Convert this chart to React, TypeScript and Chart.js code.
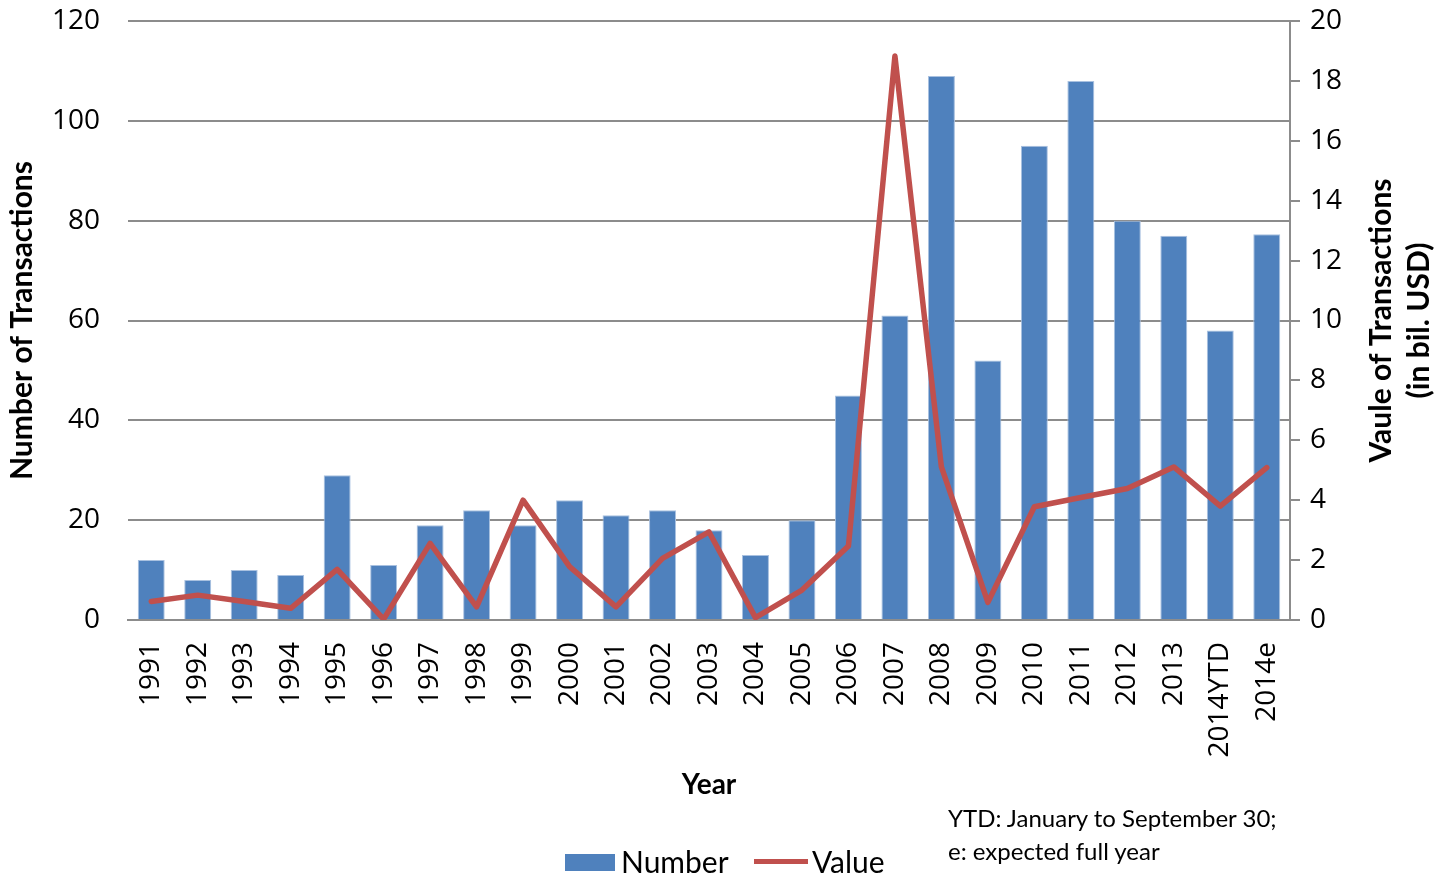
import React, { useEffect, useRef } from "react";
import { Chart, registerables } from "chart.js";

Chart.register(...registerables);

const categories = ["1991","1992","1993","1994","1995","1996","1997","1998","1999","2000","2001","2002","2003","2004","2005","2006","2007","2008","2009","2010","2011","2012","2013","2014YTD","2014e"];
const numberValues = [12,8,10,9,29,11,19,22,19,24,21,22,18,13,20,45,61,109,52,95,108,80,77,58,77.3];
const valueValues = [0.62,0.83,0.62,0.39,1.69,0.03,2.56,0.44,4.0,1.78,0.44,2.06,2.94,0.08,1.0,2.47,18.83,5.11,0.59,3.78,4.09,4.39,5.11,3.8,5.09];
const leftTicks = [0,20,40,60,80,100,120];
const rightTicks = [0,2,4,6,8,10,12,14,16,18,20];

const BLUE = "#4F81BD";
const RED = "#C0504D";
const GRID = "#8C8C8C";
const TICK_FONT = "'Open Sans', sans-serif";
const TITLE_FONT = "Lato, 'Open Sans', sans-serif";

export default function App() {
  const ref = useRef<HTMLCanvasElement>(null);
  useEffect(() => {
    document.body.style.margin = "0";
    const rightTitle = {
      id: "rightTitle",
      afterDraw(chart: any) {
        const ctx = chart.ctx;
        const y = (chart.chartArea.top + chart.chartArea.bottom) / 2;
        ctx.save();
        ctx.fillStyle = "#000";
        ctx.font = `bold 30px ${TITLE_FONT}`;
        ctx.textAlign = "center";
        ctx.textBaseline = "middle";
        [["Vaule of Transactions", 1381], ["(in bil. USD)", 1419]].forEach(([t, x]) => {
          ctx.save();
          ctx.translate(x as number, y);
          ctx.rotate(-Math.PI / 2);
          ctx.fillText(t as string, 0, 0);
          ctx.restore();
        });
        ctx.restore();
      },
    };
    const chart = new Chart(ref.current!, {
      type: "bar",
      data: {
        labels: categories,
        datasets: [
          {
            type: "line",
            label: "Value",
            data: valueValues,
            yAxisID: "y1",
            borderColor: RED,
            backgroundColor: RED,
            borderWidth: 5.5,
            borderJoinStyle: "round",
            borderCapStyle: "round",
            pointRadius: 0,
            tension: 0,
            order: 0,
          } as any,
          {
            type: "bar",
            label: "Number",
            data: numberValues,
            yAxisID: "y",
            backgroundColor: BLUE,
            borderColor: "#A9C1E0",
            borderWidth: 1,
            categoryPercentage: 1,
            barPercentage: 0.58,
            order: 1,
          } as any,
        ],
      },
      plugins: [rightTitle],
      options: {
        responsive: false,
        animation: false,
        layout: { padding: { top: 21, left: 0, right: 0, bottom: 0 } },
        plugins: { legend: { display: false }, tooltip: { enabled: false } },
        scales: {
          x: {
            grid: { display: false, drawTicks: false },
            border: { display: true, color: GRID, width: 2 },
            ticks: {
              autoSkip: false,
              minRotation: 90,
              maxRotation: 90,
              padding: 22,
              color: "#000",
              font: { family: TICK_FONT, size: 28 },
            },
            title: {
              display: true,
              text: "Year",
              color: "#000",
              font: { family: TITLE_FONT, size: 28, weight: "bold" },
              padding: { top: 0, bottom: 74 },
            },
            afterFit(scale: any) {
              scale.height = 256;
              scale.paddingLeft = 0;
              scale.paddingRight = 0;
            },
          },
          y: {
            position: "left",
            min: 0,
            max: 120,
            afterBuildTicks(scale: any) {
              scale.ticks = leftTicks.map((v) => ({ value: v }));
            },
            grid: { color: GRID, lineWidth: 2, tickLength: 0, drawTicks: false },
            border: { display: false },
            ticks: {
              padding: 28,
              color: "#000",
              font: { family: TICK_FONT, size: 28 },
            },
            title: {
              display: true,
              text: "Number of Transactions",
              color: "#000",
              font: { family: TITLE_FONT, size: 30, weight: "bold" },
              padding: { top: 4, bottom: 0 },
            },
            afterFit(scale: any) {
              scale.width = 128;
              scale.paddingTop = 0;
              scale.paddingBottom = 0;
            },
          },
          y1: {
            position: "right",
            min: 0,
            max: 20,
            afterBuildTicks(scale: any) {
              scale.ticks = rightTicks.map((v) => ({ value: v }));
            },
            grid: { drawOnChartArea: false, color: GRID, lineWidth: 2, tickLength: 10 },
            border: { display: true, color: GRID, width: 2 },
            ticks: {
              padding: 10,
              color: "#000",
              font: { family: TICK_FONT, size: 28 },
            },
            afterFit(scale: any) {
              scale.width = 151;
              scale.paddingTop = 0;
              scale.paddingBottom = 0;
            },
          },
        },
      },
    });
    return () => chart.destroy();
  }, []);

  const textStyle: React.CSSProperties = { position: "absolute", fontFamily: TITLE_FONT, color: "#000", whiteSpace: "nowrap" };
  return (
    <div style={{ position: "relative", width: 1441, height: 876, overflow: "hidden" }}>
      <canvas ref={ref} width={1441} height={876} style={{ position: "absolute", left: 0, top: 0 }} />
      <div style={{ position: "absolute", left: 565, top: 854, width: 50, height: 17, background: BLUE }} />
      <div style={{ ...textStyle, left: 621, top: 843, fontSize: 30, lineHeight: "36px" }}>Number</div>
      <div style={{ position: "absolute", left: 754, top: 859, width: 54, height: 5, background: RED }} />
      <div style={{ ...textStyle, left: 812, top: 843, fontSize: 30, lineHeight: "36px" }}>Value</div>
      <div style={{ ...textStyle, left: 948, top: 801, fontSize: 24, lineHeight: "33px" }}>YTD: January to September 30;<br />e: expected full year</div>
    </div>
  );
}
